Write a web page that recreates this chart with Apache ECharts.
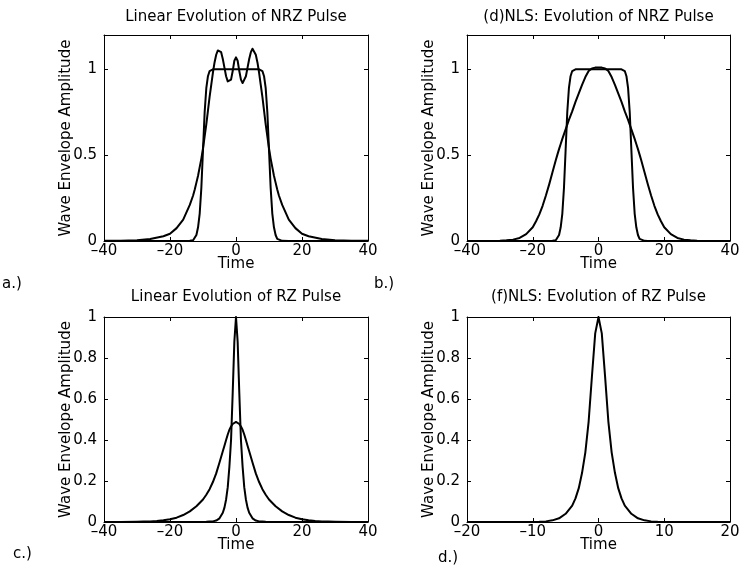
<!DOCTYPE html>
<html>
<head>
<meta charset="utf-8">
<script src="https://cdn.jsdelivr.net/npm/echarts@6/dist/echarts.min.js"></script>
<style>
  html, body { margin: 0; padding: 0; background: #fff; }
  #chart { width: 741px; height: 567px; }
</style>
</head>
<body>
<div id="chart"></div>
<script>
// ---------- DATA ----------
const titles = [
  'Linear Evolution of NRZ Pulse',
  '(d)NLS: Evolution of NRZ Pulse',
  'Linear Evolution of RZ Pulse',
  '(f)NLS: Evolution of RZ Pulse'
];
const panelTags = ['a.)', 'b.)', 'c.)', 'd.)'];
const xTicksWide = [-40, -20, 0, 20, 40];
const xTicksNarrow = [-20, -10, 0, 10, 20];
const yTicksNRZ = [0, 0.5, 1];
const yTicksRZ = [0, 0.2, 0.4, 0.6, 0.8, 1];

// Panel a: linear evolution of NRZ pulse
const aTime = [-40, -35, -30, -26, -22, -20, -18, -16, -14, -13, -12.5, -12, -11.5, -11, -10.5, -10, -9.5, -9, -8.5, -8, -7.5, -7, -6.5, -6, -5.5, -5, -4.5, -4, -3.5, -3, -2.5, -2, -1.5, -1, -0.5, 0,
  0.5, 1, 1.5, 2, 2.5, 3, 3.5, 4, 4.5, 5, 5.5, 6, 6.5, 7, 7.5, 8, 8.5, 9, 9.5, 10, 10.5, 11, 11.5, 12, 12.5, 13, 14, 16, 18, 20, 22, 26, 30, 35, 40];
const aInitial = [0, 0, 0, 0, 0, 0, 0, 0, 0.001, 0.004, 0.012, 0.035, 0.08, 0.16, 0.31, 0.53, 0.75, 0.89, 0.96, 0.99, 1, 1, 1, 1, 1, 1, 1, 1, 1, 1, 1, 1, 1, 1, 1, 1,
  1, 1, 1, 1, 1, 1, 1, 1, 1, 1, 1, 1, 1, 1, 1, 0.99, 0.96, 0.89, 0.75, 0.53, 0.31, 0.16, 0.08, 0.035, 0.012, 0.004, 0.001, 0, 0, 0, 0, 0, 0, 0, 0];
const aDispersed = [0.001, 0.002, 0.005, 0.012, 0.028, 0.042, 0.075, 0.125, 0.21, 0.265, 0.3, 0.34, 0.38, 0.43, 0.48, 0.54, 0.61, 0.68, 0.76, 0.84, 0.91, 0.98, 1.04, 1.085, 1.11, 1.12, 1.1, 1.06, 1.01, 0.96, 0.93, 0.92, 0.94, 0.99, 1.05, 1.07,
  1.05, 0.99, 0.94, 0.92, 0.93, 0.96, 1.01, 1.06, 1.1, 1.12, 1.11, 1.085, 1.04, 0.98, 0.91, 0.84, 0.76, 0.68, 0.61, 0.54, 0.48, 0.43, 0.38, 0.34, 0.3, 0.265, 0.21, 0.125, 0.075, 0.042, 0.028, 0.012, 0.005, 0.002, 0.001];

// Panel b: NLS evolution of NRZ pulse
const bTime = [-40, -35, -30, -28, -26, -24, -22, -20, -19, -18, -17, -16, -15, -14, -13, -12.5, -12, -11.5, -11, -10.5, -10, -9.5, -9, -8.5, -8, -7.5, -7, -6, -5, -4, -3, -2, -1, 0,
  1, 2, 3, 4, 5, 6, 7, 7.5, 8, 8.5, 9, 9.5, 10, 10.5, 11, 11.5, 12, 12.5, 13, 14, 15, 16, 17, 18, 19, 20, 22, 24, 26, 28, 30, 35, 40];
const bInitial = [0, 0, 0, 0, 0, 0, 0, 0, 0, 0, 0, 0, 0, 0.001, 0.004, 0.012, 0.035, 0.08, 0.16, 0.31, 0.53, 0.75, 0.89, 0.96, 0.99, 1, 1, 1, 1, 1, 1, 1, 1, 1,
  1, 1, 1, 1, 1, 1, 1, 1, 0.99, 0.96, 0.89, 0.75, 0.53, 0.31, 0.16, 0.08, 0.035, 0.012, 0.004, 0.001, 0, 0, 0, 0, 0, 0, 0, 0, 0, 0, 0, 0, 0];
const bNLS = [0, 0.0005, 0.002, 0.004, 0.008, 0.018, 0.04, 0.08, 0.115, 0.155, 0.205, 0.265, 0.33, 0.4, 0.47, 0.503, 0.535, 0.565, 0.595, 0.623, 0.65, 0.678, 0.705, 0.73, 0.755, 0.783, 0.81, 0.86, 0.91, 0.955, 0.99, 1.005, 1.01, 1.01,
  1.01, 1.005, 0.99, 0.955, 0.91, 0.86, 0.81, 0.783, 0.755, 0.73, 0.705, 0.678, 0.65, 0.623, 0.595, 0.565, 0.535, 0.503, 0.47, 0.4, 0.33, 0.265, 0.205, 0.155, 0.115, 0.08, 0.04, 0.018, 0.008, 0.004, 0.002, 0.0005, 0];

// Panel c: linear evolution of RZ pulse
const cTime = [-40, -35, -30, -28, -26, -24, -22, -20, -18, -16, -14, -12, -10, -9, -8, -7, -6, -5, -4, -3.5, -3, -2.5, -2, -1.5, -1, -0.5, 0,
  0.5, 1, 1.5, 2, 2.5, 3, 3.5, 4, 5, 6, 7, 8, 9, 10, 12, 14, 16, 18, 20, 22, 24, 26, 28, 30, 35, 40];
const cInitial = [0, 0, 0, 0, 0, 0, 0, 0, 0, 0, 0, 0, 0.0005, 0.001, 0.002, 0.003, 0.007, 0.018, 0.045, 0.07, 0.11, 0.17, 0.27, 0.4, 0.63, 0.88, 1,
  0.88, 0.63, 0.4, 0.27, 0.17, 0.11, 0.07, 0.045, 0.018, 0.007, 0.003, 0.002, 0.001, 0.0005, 0, 0, 0, 0, 0, 0, 0, 0, 0, 0, 0, 0];
const cDispersed = [0, 0, 0.001, 0.002, 0.003, 0.005, 0.008, 0.013, 0.021, 0.034, 0.052, 0.077, 0.11, 0.133, 0.16, 0.195, 0.237, 0.29, 0.345, 0.372, 0.4, 0.427, 0.45, 0.466, 0.478, 0.486, 0.488,
  0.486, 0.478, 0.466, 0.45, 0.427, 0.4, 0.372, 0.345, 0.29, 0.237, 0.195, 0.16, 0.133, 0.11, 0.077, 0.052, 0.034, 0.021, 0.013, 0.008, 0.005, 0.003, 0.002, 0.001, 0, 0];

// Panel d: NLS evolution of RZ pulse (soliton)
const dTime = [-20, -18, -16, -14, -12, -10, -9, -8, -7, -6, -5, -4, -3.5, -3, -2.5, -2, -1.5, -1, -0.5, 0,
  0.5, 1, 1.5, 2, 2.5, 3, 3.5, 4, 5, 6, 7, 8, 9, 10, 12, 14, 16, 18, 20];
const dSoliton = [0, 0, 0, 0, 0, 0.0005, 0.001, 0.003, 0.008, 0.018, 0.04, 0.08, 0.115, 0.165, 0.24, 0.34, 0.49, 0.71, 0.92, 1,
  0.92, 0.71, 0.49, 0.34, 0.24, 0.165, 0.115, 0.08, 0.04, 0.018, 0.008, 0.003, 0.001, 0.0005, 0, 0, 0, 0, 0];

// ---------- LAYOUT ----------
const FONT = 'DejaVu Sans';
const grids = [
  { left: 104, top: 35, width: 264, height: 206 },
  { left: 467, top: 35, width: 263, height: 206 },
  { left: 104, top: 317, width: 264, height: 205 },
  { left: 467, top: 317, width: 263, height: 205 }
];
const xTickSets = [xTicksWide, xTicksWide, xTicksWide, xTicksNarrow];
const yTickSets = [yTicksNRZ, yTicksNRZ, yTicksRZ, yTicksRZ];
const yMax = [1.2, 1.2, 1, 1];
const titleTops = [10, 10, 290, 290];
const tagPos = [[2, 277], [374, 277], [13, 547], [438, 551]];

const panels = [
  [[aTime, aInitial], [aTime, aDispersed]],
  [[bTime, bInitial], [bTime, bNLS]],
  [[cTime, cInitial], [cTime, cDispersed]],
  [[dTime, dSoliton]]
];

function fmtX(v) { return v < 0 ? '\u2013' + (-v) : String(v); }
function makeYFmt(ticks) {
  return function (v) {
    const r = Number(v.toFixed(4));
    return ticks.indexOf(r) >= 0 ? String(r) : '';
  };
}

const black = '#000';
const tickStyle = { show: true, inside: true, length: 4, lineStyle: { color: black, width: 1 } };
const lineStyleAxis = { show: true, onZero: false, lineStyle: { color: black, width: 1 } };

const option = {
  backgroundColor: '#fff',
  animation: false,
  title: [], grid: [], xAxis: [], yAxis: [], series: [], graphic: []
};

grids.forEach((g, i) => {
  const xt = xTickSets[i];
  const yt = yTickSets[i];
  const xInterval = xt[1] - xt[0];
  const yInterval = Number((yt[1] - yt[0]).toFixed(4));
  option.grid.push(Object.assign({ outerBoundsMode: 'none', containLabel: false, show: false }, g));
  option.title.push({
    text: titles[i],
    left: g.left + g.width / 2,
    top: titleTops[i],
    padding: 0,
    textAlign: 'center',
    textStyle: { fontFamily: FONT, fontSize: 15, fontWeight: 'normal', color: black }
  });
  // bottom x axis
  option.xAxis.push({
    type: 'value', gridIndex: i, position: 'bottom',
    min: xt[0], max: xt[xt.length - 1], interval: xInterval,
    axisLine: lineStyleAxis, axisTick: tickStyle, splitLine: { show: false },
    axisLabel: { formatter: fmtX, margin: 3, color: black, fontFamily: FONT, fontSize: 15 },
    name: 'Time', nameLocation: 'middle', nameGap: 16, nameMoveOverlap: false,
    nameTextStyle: { fontFamily: FONT, fontSize: 15, color: black }
  });
  // left y axis
  option.yAxis.push({
    type: 'value', gridIndex: i, position: 'left',
    min: 0, max: yMax[i], interval: yInterval,
    axisLine: lineStyleAxis, axisTick: tickStyle, splitLine: { show: false },
    axisLabel: { formatter: makeYFmt(yt), margin: 7, color: black, fontFamily: FONT, fontSize: 15, showMaxLabel: yMax[i] === yt[yt.length - 1] },
    name: 'Wave Envelope Amplitude', nameLocation: 'middle', nameGap: 30, nameMoveOverlap: false,
    nameTextStyle: { fontFamily: FONT, fontSize: 15, color: black }
  });
  option.graphic.push({
    type: 'text', left: tagPos[i][0], top: tagPos[i][1],
    style: { text: panelTags[i], font: '15px "DejaVu Sans"', fill: black }
  });
});
// top / right box axes with inward ticks
grids.forEach((g, i) => {
  const xt = xTickSets[i];
  const yt = yTickSets[i];
  option.xAxis.push({
    type: 'value', gridIndex: i, position: 'top',
    min: xt[0], max: xt[xt.length - 1], interval: xt[1] - xt[0],
    axisLine: lineStyleAxis, axisTick: tickStyle, axisLabel: { show: false }, splitLine: { show: false }
  });
  option.yAxis.push({
    type: 'value', gridIndex: i, position: 'right',
    min: 0, max: yMax[i], interval: Number((yt[1] - yt[0]).toFixed(4)),
    axisLine: lineStyleAxis, axisTick: tickStyle, axisLabel: { show: false }, splitLine: { show: false }
  });
});

panels.forEach((curves, i) => {
  curves.forEach(([t, v]) => {
    option.series.push({
      type: 'line', xAxisIndex: i, yAxisIndex: i,
      data: t.map((x, k) => [x, v[k]]),
      showSymbol: false, smooth: false,
      lineStyle: { color: black, width: 2, join: 'round' },
      emphasis: { disabled: true }, silent: true
    });
  });
});

const chart = echarts.init(document.getElementById('chart'), null, { renderer: 'canvas' });
chart.setOption(option);
</script>
</body>
</html>
